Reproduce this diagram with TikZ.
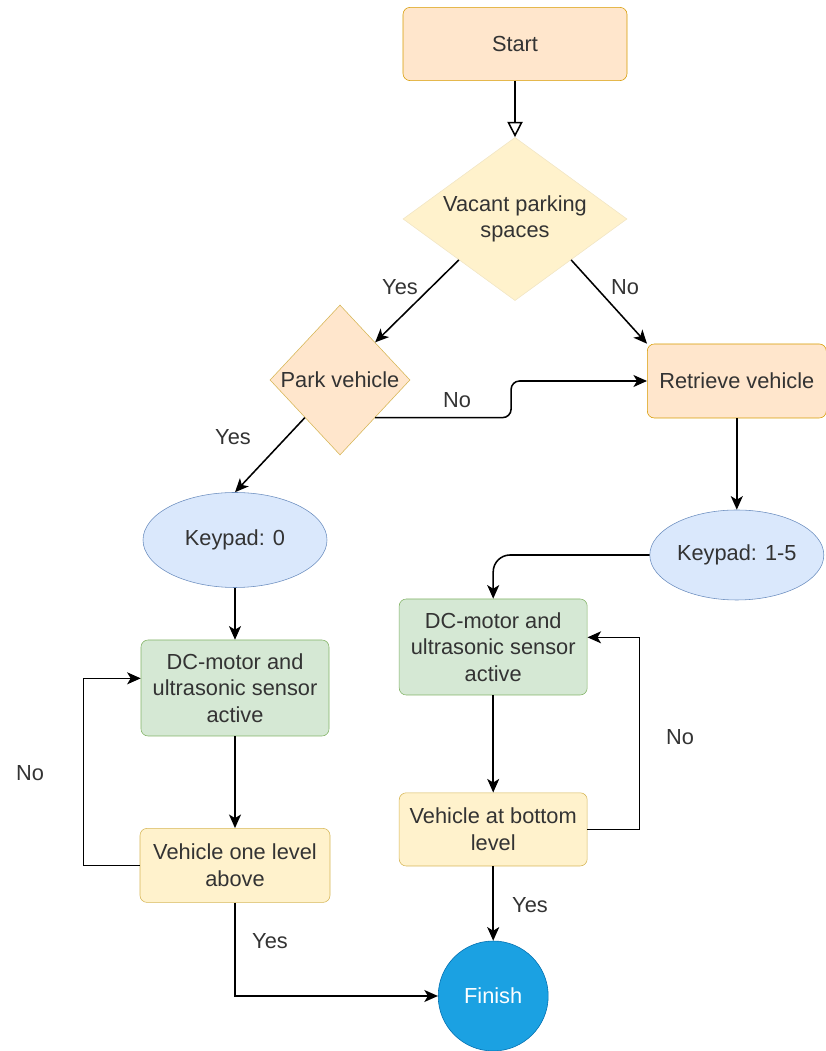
\documentclass[tikz,border=0pt]{standalone}
\usepackage{fontspec}
\setmainfont{Liberation Sans}
\usetikzlibrary{shapes.geometric, arrows.meta, positioning, calc}
\definecolor{orangefill}{HTML}{FFE6CC}
\definecolor{orangeline}{HTML}{D79B00}
\definecolor{yellowfill}{HTML}{FFF2CC}
\definecolor{yellowline}{HTML}{D6B656}
\definecolor{bluefill}{HTML}{DAE8FC}
\definecolor{blueline}{HTML}{6C8EBF}
\definecolor{greenfill}{HTML}{D5E8D4}
\definecolor{greenline}{HTML}{82B366}
\definecolor{finishblue}{HTML}{1BA1E2}
\definecolor{finishline}{HTML}{006EAF}
\definecolor{textgray}{HTML}{333333}

\begin{document}
\begin{tikzpicture}[
  font=\fontsize{15.5}{19}\selectfont,
  terminal/.style={rectangle, draw=orangeline, fill=orangefill, rounded corners=5pt, minimum width=5.6cm, minimum height=1.83cm, align=center, text=textgray},
  action/.style={rectangle, draw=orangeline, fill=orangefill, rounded corners=5pt, minimum width=4.475cm, minimum height=1.85cm, align=center, text=textgray},
  decision/.style={diamond, fill=yellowfill, draw=yellowline, inner sep=0pt, align=center, text=textgray},
  keypad/.style={ellipse, draw=blueline, fill=bluefill, inner sep=0pt, align=center, text=textgray},
  motor/.style={rectangle, draw=greenline, fill=greenfill, rounded corners=5pt, minimum width=4.7cm, minimum height=2.4cm, align=center, text=textgray},
  check/.style={rectangle, draw=yellowline, fill=yellowfill, rounded corners=5pt, minimum width=4.75cm, minimum height=1.85cm, align=center, text=textgray},
  finish/.style={circle, draw=finishline, fill=finishblue, minimum size=2.75cm, text=white},
  answer/.style={text=textgray},
  arrow/.style={-{Stealth[length=3.4mm, width=3mm, inset=0.9mm]}, draw=black, line width=1.1pt},
  openarrow/.style={-{Triangle[open, length=3.8mm, width=3.8mm]}, draw=black, line width=1.1pt}
]
  \useasboundingbox (0,0) rectangle (20.625,26.275);

  % Start and first decision
  \node[terminal] (start) at (12.875,25.175) {Start};
  \node[decision, draw=yellowline!35, aspect=1.4, minimum width=5.6cm, minimum height=4.08cm] (vacant) at (12.875,20.8) {Vacant parking\\spaces};

  % Park / retrieve
  \node[decision, fill=orangefill, minimum width=3.5cm, minimum height=3.75cm] (park) at (8.5,16.775) {Park vehicle};
  \node[action] (retrieve) at (18.42,16.75) {Retrieve vehicle};

  % Keypads
  \node[keypad, minimum width=4.6cm, minimum height=2.375cm] (keypad0) at (5.875,12.775) {Keypad: 0};
  \node[keypad, minimum width=4.35cm, minimum height=2.25cm] (keypad15) at (18.42,12.4) {Keypad: 1-5};

  % Motor and checks
  \node[motor] (dcleft) at (5.875,9.075) {DC-motor and\\ultrasonic sensor\\active};
  \node[check] (vabove) at (5.875,4.64) {Vehicle one level\\above};
  \node[motor] (dcright) at (12.33,10.1) {DC-motor and\\ultrasonic sensor\\active};
  \node[check, minimum width=4.7cm, minimum height=1.83cm] (vbottom) at (12.33,5.54) {Vehicle at bottom\\level};

  \node[finish] (end) at (12.33,1.375) {Finish};

  % Arrows
  \draw[openarrow] (start) -- (vacant);
  \draw[arrow] (vacant.south west) -- (park.north east);
  \draw[arrow] (vacant.south east) -- (retrieve.north west);
  \draw[arrow, rounded corners=6pt] (park.south east) -| ($(park.south east)!0.5!(retrieve.west)$) |- (retrieve.west);
  \draw[arrow] (park.south west) -- (keypad0.north);
  \draw[arrow] (keypad0) -- (dcleft);
  \draw[arrow] (dcleft) -- (vabove);
  \draw[arrow] (vabove.west) -- ++(-1.4,0) |- ($(dcleft.north west)!0.4!(dcleft.south west)$);
  \draw[arrow] (vabove.south) |- (end.west);
  \draw[arrow] (retrieve) -- (keypad15);
  \draw[arrow, rounded corners=12pt] (keypad15.west) -| (dcright.north);
  \draw[arrow] (dcright) -- (vbottom);
  \draw[arrow] (vbottom.east) -- ++(1.3,0) |- ($(dcright.north east)!0.4!(dcright.south east)$);
  \draw[arrow] (vbottom) -- (end);

  % Branch labels
  \node[answer] (yes1) at (10.0,19.1) {Yes};
  \node[answer] (no1) at (15.625,19.1) {No};
  \node[answer] (no2) at (11.425,16.275) {No};
  \node[answer] (yes2) at (5.825,15.35) {Yes};
  \node[answer] (no3) at (0.75,6.95) {No};
  \node[answer] (no4) at (17.0,7.85) {No};
  \node[answer] (yes3) at (6.75,2.75) {Yes};
  \node[answer] (yes4) at (13.25,3.65) {Yes};
\end{tikzpicture}
\end{document}
